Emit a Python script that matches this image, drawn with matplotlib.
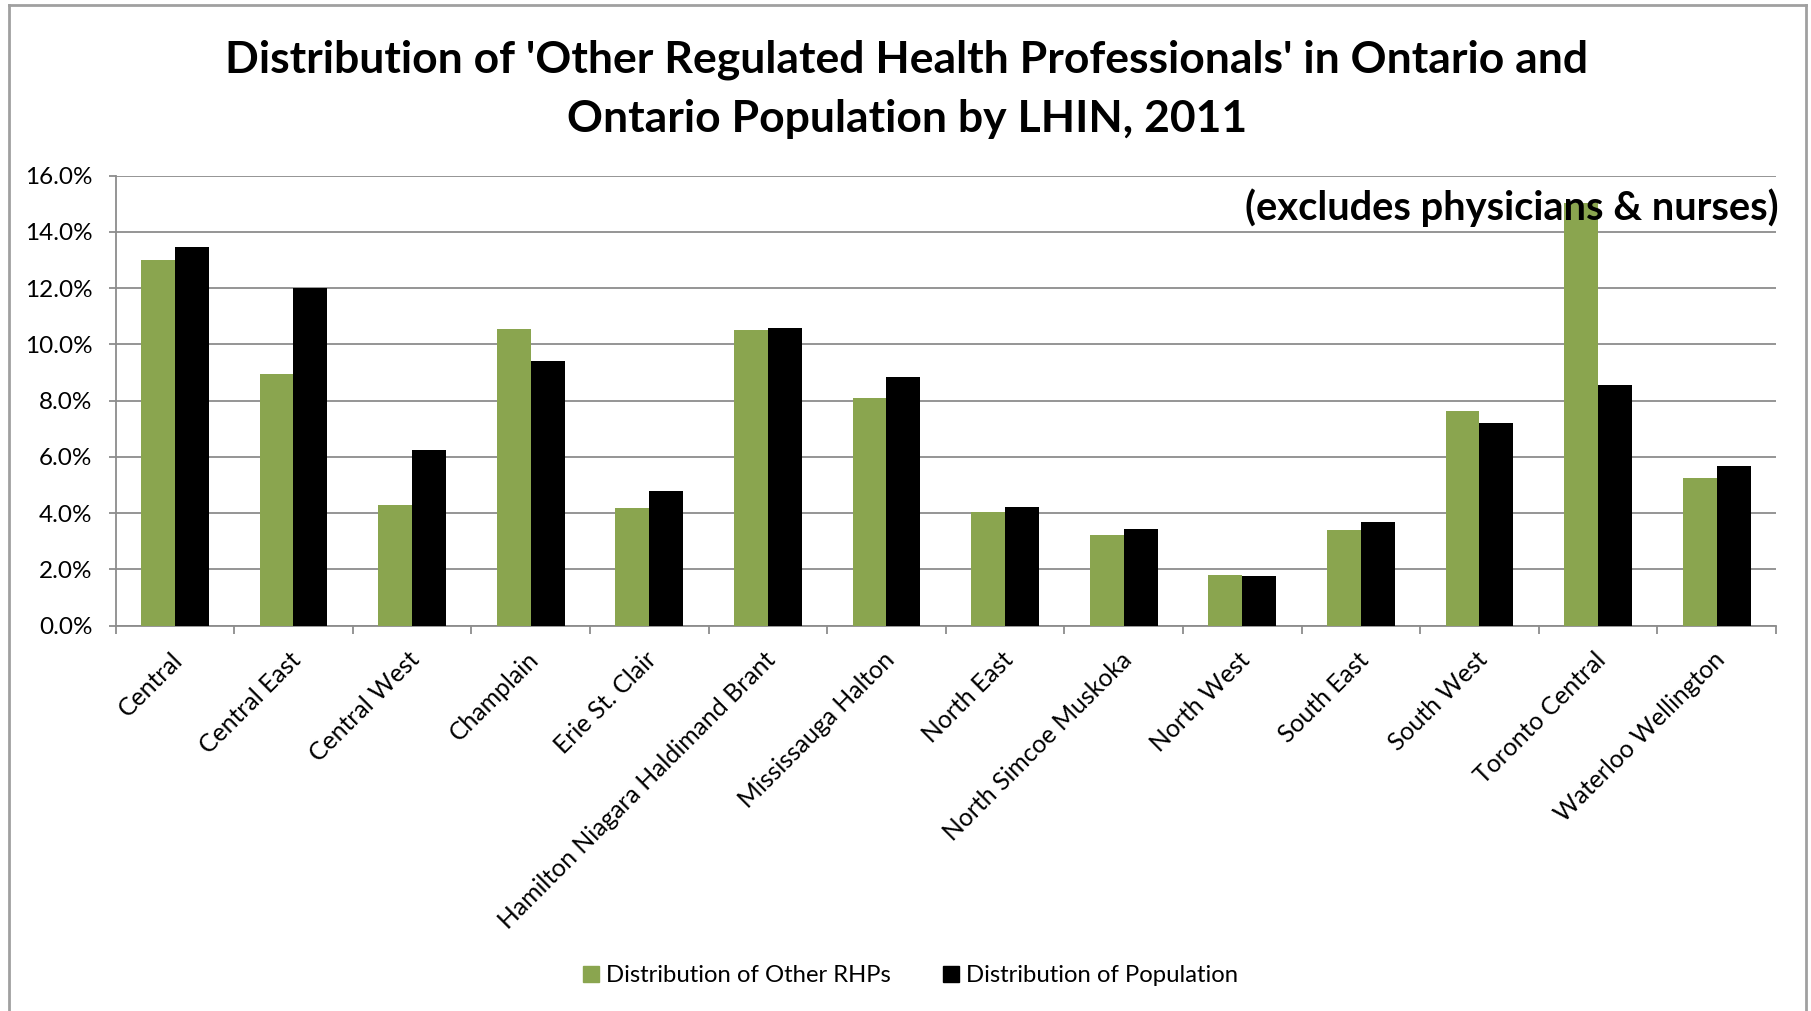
import matplotlib
matplotlib.use("Agg")
import matplotlib.pyplot as plt
import numpy as np
from matplotlib.ticker import FuncFormatter, MultipleLocator
from matplotlib.lines import Line2D
from matplotlib.transforms import ScaledTranslation

plt.rcParams['font.family'] = ['Lato', 'DejaVu Sans']

categories = ["Central", "Central East", "Central West", "Champlain", "Erie St. Clair",
              "Hamilton Niagara Haldimand Brant", "Mississauga Halton", "North East",
              "North Simcoe Muskoka", "North West", "South East", "South West",
              "Toronto Central", "Waterloo Wellington"]
rhp_share = [13.0, 8.95, 4.27, 10.56, 4.19, 10.51, 8.09, 4.05, 3.21, 1.80, 3.40, 7.62, 15.03, 5.23]
pop_share = [13.45, 11.99, 6.24, 9.42, 4.79, 10.59, 8.85, 4.22, 3.44, 1.77, 3.68, 7.19, 8.56, 5.66]
series_names = ["Distribution of Other RHPs", "Distribution of Population"]
title = "Distribution of 'Other Regulated Health Professionals' in Ontario and\nOntario Population by LHIN, 2011"
note = "(excludes physicians & nurses)"

green = "#8AA54F"
black = "#000000"
grid_c = "#8C8C8C"

W, H = 1811, 1011
fig = plt.figure(figsize=(W / 100, H / 100), dpi=100)
ax = fig.add_axes([115.5 / W, 1 - 625.5 / H, (1776 - 115.5) / W, (625.5 - 175.6) / H])

x = np.arange(len(categories))
bw = 1 / 3.5
ax.bar(x - bw / 2, rhp_share, bw, color=green, label=series_names[0], zorder=3)
ax.bar(x + bw / 2, pop_share, bw, color=black, label=series_names[1], zorder=3)

ax.set_xlim(-0.5, len(categories) - 0.5)
ax.set_ylim(0, 16)
ax.yaxis.set_major_locator(MultipleLocator(2))
ax.yaxis.set_major_formatter(FuncFormatter(lambda v, p: f"{v:.1f}%"))
ax.grid(axis='y', color=grid_c, linewidth=1.3, zorder=0)
for s in ['top', 'right']:
    ax.spines[s].set_visible(False)
for s in ['left', 'bottom']:
    ax.spines[s].set_color(grid_c)
    ax.spines[s].set_linewidth(1.3)

ax.set_xticks(np.arange(len(categories) + 1) - 0.5)
ax.set_xticklabels([])
ax.set_xticks(x, minor=True)
ax.set_xticklabels(categories, minor=True, rotation=45, ha='right', va='center',
                   rotation_mode='anchor', fontsize=17.8)
ax.tick_params(axis='x', which='minor', length=0, pad=22)
ax.tick_params(axis='x', which='major', length=5.8, width=1.3, color=grid_c)
ax.tick_params(axis='y', length=5, width=1.3, color=grid_c, labelsize=17.5, pad=11.5)
shift = ScaledTranslation(4 / 100, 0, fig.dpi_scale_trans)
for lbl in ax.get_xticklabels(minor=True):
    lbl.set_transform(lbl.get_transform() + shift)

fig.text(907 / W, 1 - 89 / H, title, ha='center', va='center', fontsize=32,
         fontweight='bold', linespacing=1.58)
fig.text(1779 / W, 1 - 208 / H, note, ha='right', va='center', fontsize=28.7,
         fontweight='bold', zorder=5)

handles = [Line2D([], [], marker='s', linestyle='none', markersize=11.5, color=green),
           Line2D([], [], marker='s', linestyle='none', markersize=11.5, color=black)]
fig.legend(handles, series_names, loc='center', bbox_to_anchor=(910 / W, 1 - 976 / H),
           ncol=2, frameon=False, fontsize=17.2, handletextpad=0.25, columnspacing=2.1,
           handlelength=0.8)

# outer chart border
for xs, ys in [([9, 9], [5, H + 5]), ([9, 1806], [5, 5]), ([1806, 1806], [5, H + 5])]:
    fig.add_artist(Line2D([v / W for v in xs], [1 - v / H for v in ys],
                          color="#A0A0A0", linewidth=2, transform=fig.transFigure))

fig.savefig("out.png", dpi=100)
